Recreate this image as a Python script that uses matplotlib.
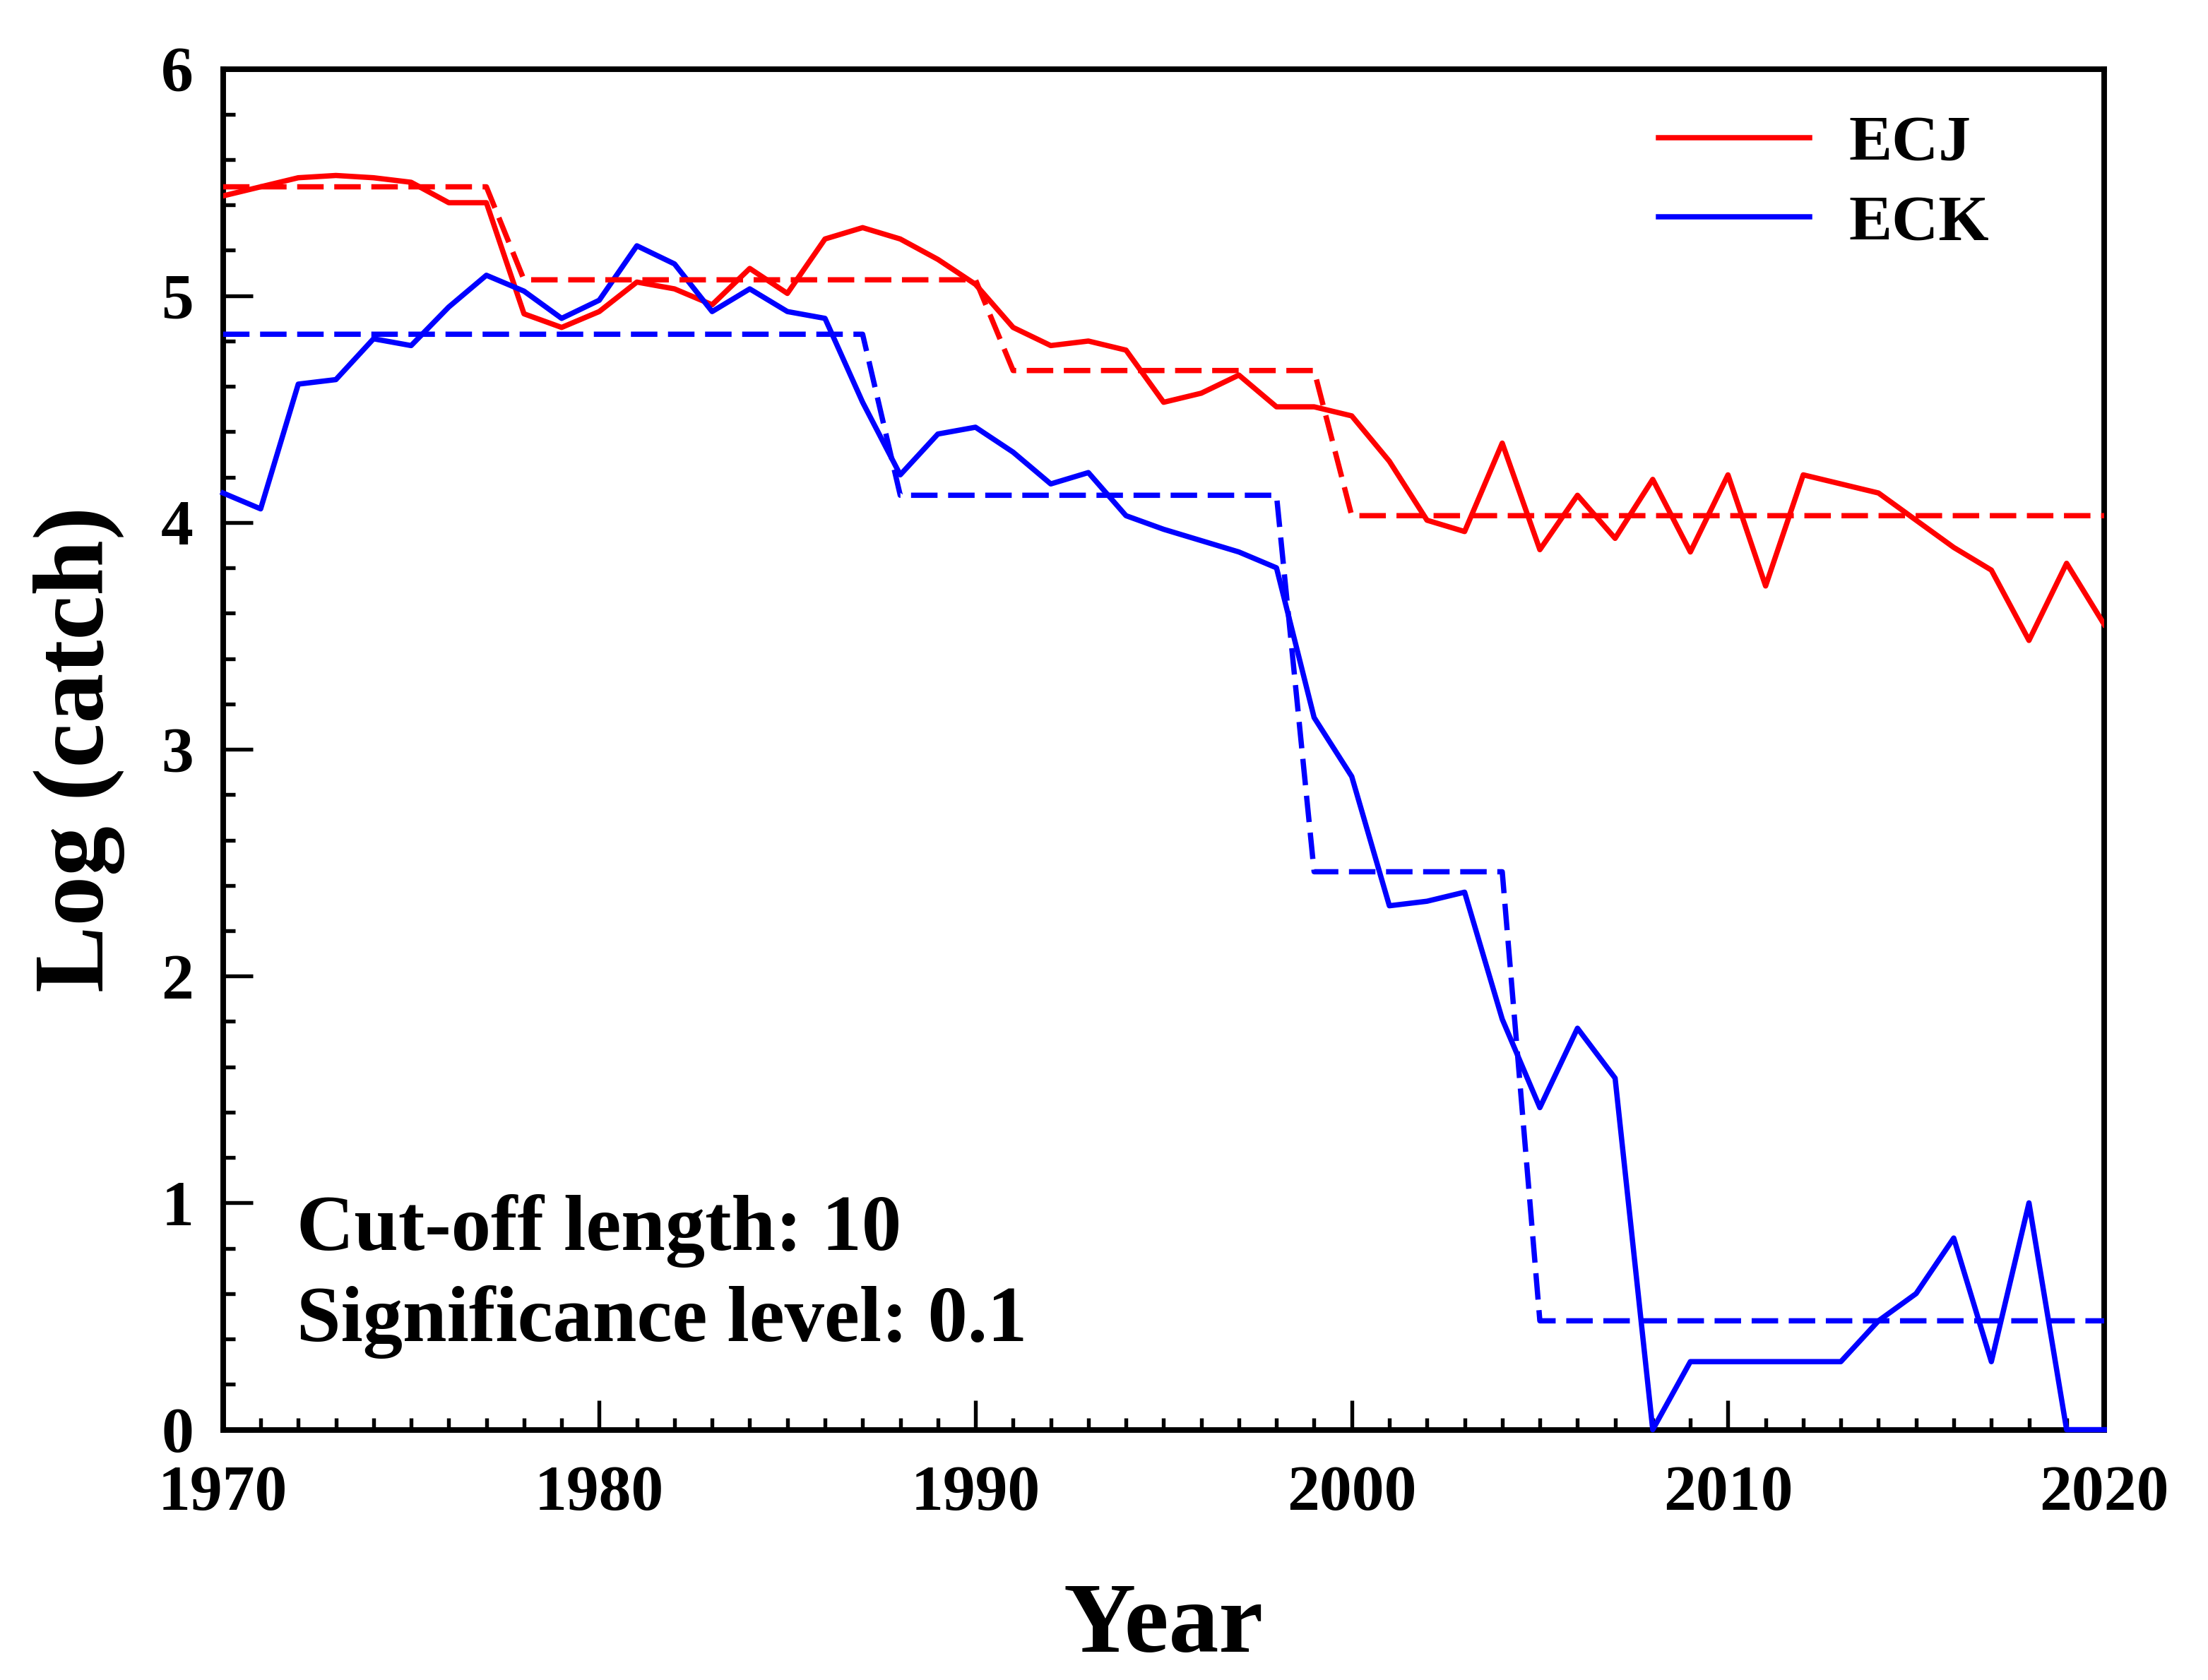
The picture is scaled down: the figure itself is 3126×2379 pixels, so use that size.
import numpy as np
import matplotlib
matplotlib.use('Agg')
import matplotlib.pyplot as plt
from matplotlib.ticker import MultipleLocator

plt.rcParams['font.family'] = ['Liberation Serif', 'DejaVu Serif']
plt.rcParams['font.weight'] = 'bold'

years = np.arange(1970, 2021)

ecj = [5.44, 5.48, 5.52, 5.53, 5.52, 5.50, 5.41, 5.41, 4.92, 4.86,
       4.93, 5.06, 5.03, 4.96, 5.12, 5.01, 5.25, 5.30, 5.25, 5.16,
       5.05, 4.86, 4.78, 4.80, 4.76, 4.53, 4.57, 4.65, 4.51, 4.51,
       4.47, 4.27, 4.01, 3.96, 4.35, 3.88, 4.12, 3.93, 4.19, 3.87,
       4.21, 3.72, 4.21, 4.17, 4.13, 4.01, 3.89, 3.79, 3.48, 3.82,
       3.55]
eck = [4.13, 4.06, 4.61, 4.63, 4.81, 4.78, 4.95, 5.09, 5.02, 4.90,
       4.98, 5.22, 5.14, 4.93, 5.03, 4.93, 4.90, 4.53, 4.21, 4.39,
       4.42, 4.31, 4.17, 4.22, 4.03, 3.97, 3.92, 3.87, 3.80, 3.14,
       2.88, 2.31, 2.33, 2.37, 1.81, 1.42, 1.77, 1.55, 0.00, 0.30,
       0.30, 0.30, 0.30, 0.30, 0.48, 0.60, 0.845, 0.30, 1.00, 0.00,
       0.00]

# regime shifts: number of years in each regime and the regime mean
ecj_regime_len = [8, 13, 9, 21]
ecj_regime_mean = [5.48, 5.07, 4.67, 4.03]
eck_regime_len = [18, 11, 6, 16]
eck_regime_mean = [4.83, 4.12, 2.46, 0.48]

ecj_step = np.repeat(ecj_regime_mean, ecj_regime_len)
eck_step = np.repeat(eck_regime_mean, eck_regime_len)

fig = plt.figure(figsize=(10.42, 7.93), dpi=300)
ax = fig.add_axes([0.101, 0.149, 0.852, 0.810])

ax.plot(years, ecj, color='#ff0000', lw=1.8, label='ECJ')
ax.plot(years, eck, color='#0000ff', lw=1.8, label='ECK', clip_on=False)
ax.plot(years, ecj_step, color='#ff0000', lw=1.8, dashes=(5, 2))
ax.plot(years, eck_step, color='#0000ff', lw=1.8, dashes=(5, 2))

ax.set_xlim(1970, 2020)
ax.set_ylim(0, 6)
ax.xaxis.set_major_locator(MultipleLocator(10))
ax.xaxis.set_minor_locator(MultipleLocator(1))
ax.yaxis.set_major_locator(MultipleLocator(1))
ax.yaxis.set_minor_locator(MultipleLocator(0.2))
ax.tick_params(which='both', direction='in', width=1.3, top=False, right=False)
ax.tick_params(which='major', length=10, labelsize=22)
ax.tick_params(which='minor', length=4)
ax.tick_params(axis='x', pad=12)
ax.tick_params(axis='y', pad=10)
for s in ax.spines.values():
    s.set_linewidth(1.9)
    s.set_zorder(1)

ax.set_xlabel('Year', fontsize=34, fontweight='bold')
ax.set_ylabel('Log (catch)', fontsize=34, fontweight='bold')
ax.xaxis.set_label_coords(0.5, -0.112)
ax.yaxis.set_label_coords(-0.052, 0.5)

ax.legend(loc='upper left', bbox_to_anchor=(0.746, 0.99), frameon=False,
          borderpad=0, handlelength=2.33, handletextpad=0.6, labelspacing=0.32,
          prop={'size': 22, 'weight': 'bold'})

ax.text(0.039, 0.132, 'Cut-off length: 10', transform=ax.transAxes,
        fontsize=27, fontweight='bold', va='baseline')
ax.text(0.039, 0.065, 'Significance level: 0.1', transform=ax.transAxes,
        fontsize=27, fontweight='bold', va='baseline')

fig.savefig('out.png', dpi=300)
